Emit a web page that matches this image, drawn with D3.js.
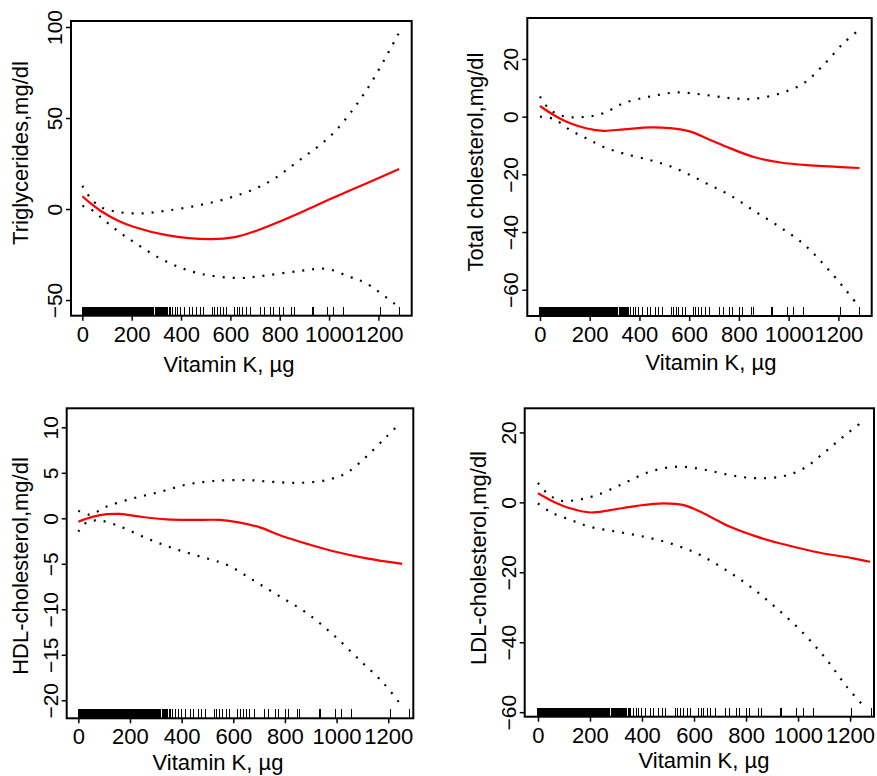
<!DOCTYPE html>
<html>
<head>
<meta charset="utf-8">
<script src="https://cdn.jsdelivr.net/npm/d3@7"></script>
<style>
  body { margin: 0; background: #fff; }
  svg { display: block; }
  text { font-family: "Liberation Sans", Arial, sans-serif; fill: #000; }
</style>
</head>
<body>
<svg id="chart" width="877" height="776"></svg>
<script>
// vitamin K intake of each subject (rug)
const rugValues = [
  0, 1, 3, 5, 8, 10, 12, 14, 17, 19, 21, 24, 26, 28, 31, 33, 35, 38, 40, 42, 45, 47, 49, 52, 54,
  56, 59, 61, 63, 66, 68, 70, 73, 75, 77, 80, 82, 84, 87, 89, 91, 94, 96, 98, 101, 103, 105, 108,
  110, 112, 115, 117, 119, 122, 124, 126, 129, 131, 133, 136, 138, 140, 143, 145, 147, 150, 152,
  154, 157, 159, 161, 164, 166, 168, 171, 173, 175, 178, 180, 182, 185, 187, 189, 192, 194, 196,
  199, 201, 203, 206, 208, 210, 213, 215, 217, 220, 222, 224, 227, 229, 231, 234, 236, 238, 241,
  244, 247, 250, 253, 255, 258, 262, 264, 268, 271, 273, 276, 281, 284, 287, 290, 295, 298, 302,
  305, 309, 313, 318, 320, 324, 329, 332, 336, 338, 342, 347, 352, 356,
  366, 378, 386, 398, 414, 434, 446, 464, 477, 491, 527, 536, 548, 558, 574, 585, 617, 627, 638,
  651, 664, 683, 722, 737, 762, 774, 801, 815, 849, 858, 932, 937, 994, 1020, 1058, 1207, 1284
];

// Triglycerides
const trigFit = [[0, 7], [30, 3.5], [72, -0.8], [139, -6], [207, -9.7], [342, -14.3], [518, -16.5],
  [612, -15.6], [693, -12.5], [815, -6], [923, 0.4], [1017, 6.2], [1153, 14.2], [1284, 22]];
const trigUpper = [[0, 12.7], [31, 6.5], [72, 1.3], [139, -1.5], [234, -2.4], [342, -0.9], [477, 2.2],
  [612, 6.8], [747, 14.2], [882, 27], [1017, 41.7], [1153, 65.6], [1284, 97]];
const trigLower = [[0, 1.7], [31, 0.2], [72, -4.2], [139, -11.6], [207, -18], [342, -29], [477, -35.5],
  [639, -37.9], [747, -36.4], [882, -34], [990, -32.9], [1085, -37.3], [1153, -41], [1284, -54]];

// Total cholesterol
const tcFit = [[0, 3.7], [55, 0.6], [122, -2.3], [189, -4.1], [256, -4.9], [337, -4.4], [444, -3.7],
  [524, -4], [605, -5.2], [685, -8.1], [766, -11], [860, -14], [967, -15.9], [1088, -16.9],
  [1195, -17.4], [1285, -17.8]];
const tcUpper = [[0, 7], [28, 3.5], [68, 0.9], [122, -0.2], [189, 0], [256, 1.2], [337, 4.7], [444, 7],
  [551, 8.4], [658, 7.6], [766, 6.4], [860, 6.2], [967, 8.1], [1061, 11.6], [1141, 18], [1222, 25.6],
  [1285, 30.2]];
const tcLower = [[0, 0], [55, -0.8], [122, -4.7], [189, -7.6], [256, -10.5], [337, -12.8], [444, -15.1],
  [524, -17.2], [605, -20.3], [685, -23.8], [766, -27.3], [860, -32.6], [967, -38.4], [1061, -44.2],
  [1141, -51.2], [1222, -59.3], [1280, -65.5]];

// HDL-cholesterol
const hdlFit = [[0, -0.37], [58, 0.18], [110, 0.45], [161, 0.48], [239, 0.18], [342, -0.11], [445, -0.18],
  [548, -0.18], [626, -0.48], [703, -1], [794, -2], [897, -2.9], [1000, -3.7], [1116, -4.4], [1254, -5]];
const hdlUpper = [[0, 0.84], [45, 0.4], [110, 1.3], [213, 2.2], [316, 2.9], [419, 3.7], [523, 4.1],
  [652, 4.2], [755, 4], [858, 3.9], [961, 4.2], [1039, 5], [1116, 6.8], [1194, 9], [1245, 10.4]];
const hdlLower = [[0, -1.47], [32, -0.45], [84, -0.25], [161, -0.9], [265, -2.2], [368, -3.3], [471, -4.2],
  [574, -5.1], [677, -6.8], [781, -8.6], [884, -10.4], [987, -12.8], [1090, -15.6], [1181, -18.1],
  [1249, -20.5]];

// LDL-cholesterol
const ldlFit = [[0, 2.6], [60, 0.2], [124, -1.7], [201, -2.9], [278, -2.2], [380, -1], [483, -0.3],
  [560, -0.8], [636, -3.1], [739, -7], [841, -9.8], [956, -12.2], [1084, -14.4], [1213, -16], [1277, -17]];
const ldlUpper = [[0, 5.6], [35, 2.6], [86, 0.5], [150, 0.7], [227, 2.1], [329, 5.4], [432, 8.8],
  [534, 10.2], [636, 9.4], [739, 7.8], [841, 6.9], [944, 7.5], [1021, 9.7], [1097, 14], [1174, 18.8],
  [1255, 23.5]];
const ldlLower = [[0, -0.3], [47, -2.7], [124, -5], [201, -7], [303, -8.4], [406, -9.8], [508, -11.7],
  [611, -14.6], [713, -18.9], [816, -24.1], [918, -30.3], [1020, -37.4], [1110, -45], [1187, -52.7],
  [1255, -58.5]];

const xTickValues = [0, 200, 400, 600, 800, 1000, 1200];
const trigTicks = [-50, 0, 50, 100];
const tcTicks = [-60, -40, -20, 0, 20];
const hdlTicks = [-20, -15, -10, -5, 0, 5, 10];
const ldlTicks = [-60, -40, -20, 0, 20];

const xTitle = 'Vitamin K, µg';

const panels = [
  { box: [71, 411.7, 21, 315.7], xDomain: [-46, 1335], yDomain: [-58.6, 103.3], ticks: trigTicks,
    fit: trigFit, upper: trigUpper, lower: trigLower, title: 'Triglycerides,mg/dl',
    yTitle: [28, 153], xTitleAt: [229, 372] },
  { box: [527.3, 871.7, 18, 316], xDomain: [-51, 1334], yDomain: [-69.1, 34.2], ticks: tcTicks,
    fit: tcFit, upper: tcUpper, lower: tcLower, title: 'Total cholesterol,mg/dl',
    yTitle: [483, 162], xTitleAt: [711, 370] },
  { box: [66.7, 413.3, 408.3, 718.3], xDomain: [-45, 1297], yDomain: [-21.98, 12.09], ticks: hdlTicks,
    fit: hdlFit, upper: hdlUpper, lower: hdlLower, title: 'HDL-cholesterol,mg/dl',
    yTitle: [28, 566], xTitleAt: [218, 770] },
  { box: [524.7, 874, 408.3, 716.7], xDomain: [-51, 1292], yDomain: [-61.3, 26.9], ticks: ldlTicks,
    fit: ldlFit, upper: ldlUpper, lower: ldlLower, title: 'LDL-cholesterol,mg/dl',
    yTitle: [486, 558], xTitleAt: [704, 768] }
];

const svg = d3.select('#chart');
const fmt = d => (d < 0 ? '\u2212' + Math.abs(d) : String(d));

panels.forEach((p, i) => {
  const [left, right, top, bottom] = p.box;
  const x = d3.scaleLinear().domain(p.xDomain).range([left, right]);
  const y = d3.scaleLinear().domain(p.yDomain).range([bottom, top]);
  const g = svg.append('g');

  g.append('clipPath').attr('id', 'clip' + i)
    .append('rect')
    .attr('x', left).attr('y', top)
    .attr('width', right - left).attr('height', bottom - top);

  // x axis
  const xa = g.append('g').attr('transform', `translate(0,${bottom})`)
    .call(d3.axisBottom(x).tickValues(xTickValues).tickSize(5).tickFormat(fmt));
  xa.attr('font-size', null).attr('font-family', null);
  xa.select('.domain').remove();
  xa.selectAll('line').attr('stroke', '#000').attr('stroke-width', 1.5);
  xa.selectAll('text').attr('dy', null).attr('y', 26).style('font-size', '22px');

  // y axis, labels rotated like base R
  const ya = g.append('g').attr('transform', `translate(${left},0)`)
    .call(d3.axisLeft(y).tickValues(p.ticks).tickSize(5).tickFormat(fmt));
  ya.attr('font-size', null).attr('font-family', null);
  ya.select('.domain').remove();
  ya.selectAll('line').attr('stroke', '#000').attr('stroke-width', 1.5);
  ya.selectAll('text')
    .attr('x', null).attr('dy', null)
    .attr('text-anchor', 'middle')
    .style('font-size', '21px')
    .attr('transform', 'translate(-9,0) rotate(-90)');

  // rug
  g.append('g').attr('shape-rendering', 'crispEdges')
    .selectAll('line').data(rugValues).join('line')
    .attr('x1', d => x(d)).attr('x2', d => x(d))
    .attr('y1', bottom).attr('y2', bottom - 9)
    .attr('stroke', '#000').attr('stroke-width', 1);

  const line = d3.line().x(d => x(d[0])).y(d => y(d[1])).curve(d3.curveCatmullRom.alpha(0.5));
  const curves = g.append('g').attr('clip-path', `url(#clip${i})`);
  [p.upper, p.lower].forEach(s => {
    curves.append('path').attr('d', line(s))
      .attr('fill', 'none').attr('stroke', '#000')
      .attr('stroke-width', 2.2).attr('stroke-dasharray', '2 8');
  });
  curves.append('path').attr('d', line(p.fit))
    .attr('fill', 'none').attr('stroke', '#ff0000').attr('stroke-width', 2.2);

  // frame
  g.append('rect')
    .attr('x', left).attr('y', top)
    .attr('width', right - left).attr('height', bottom - top)
    .attr('fill', 'none').attr('stroke', '#000').attr('stroke-width', 2);

  g.append('text')
    .attr('transform', `translate(${p.yTitle[0]},${p.yTitle[1]}) rotate(-90)`)
    .attr('text-anchor', 'middle').style('font-size', '22px')
    .text(p.title);

  g.append('text')
    .attr('x', p.xTitleAt[0]).attr('y', p.xTitleAt[1])
    .attr('text-anchor', 'middle').style('font-size', '22px')
    .text(xTitle);
});
</script>
</body>
</html>
